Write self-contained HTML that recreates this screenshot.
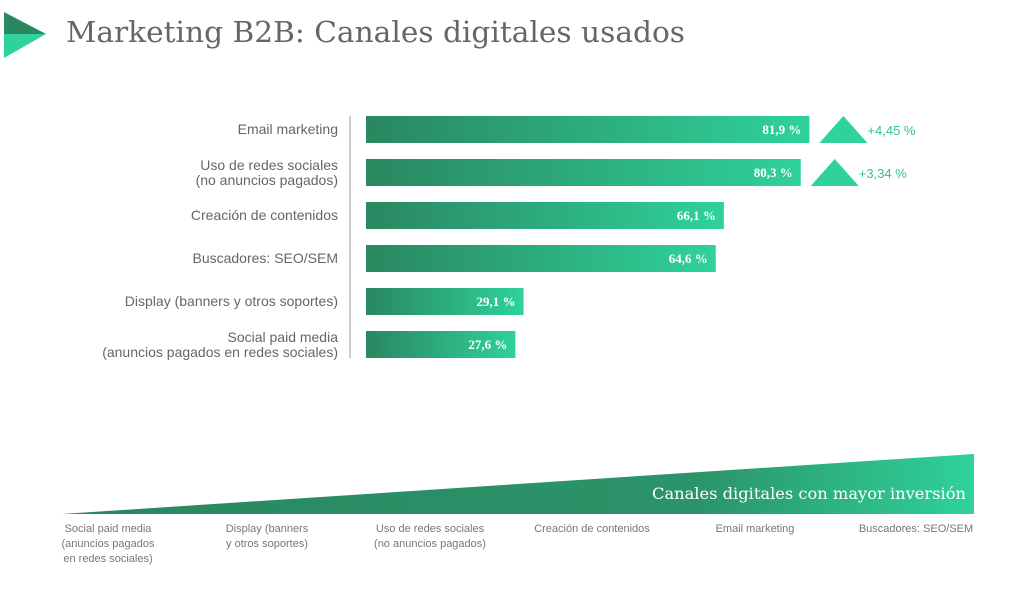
<!DOCTYPE html>
<html><head><meta charset="utf-8"><style>
body{margin:0;background:#fff;width:1018px;height:591px;overflow:hidden;font-family:"Liberation Sans",sans-serif}
</style></head><body>
<svg width="1018" height="591" xmlns="http://www.w3.org/2000/svg">
<defs>
<linearGradient id="bg" x1="0" x2="1" y1="0" y2="0"><stop offset="0" stop-color="#2a8760"/><stop offset="1" stop-color="#2fd29a"/></linearGradient>
<linearGradient id="wg" x1="0" x2="1" y1="0" y2="0"><stop offset="0" stop-color="#2a8760"/><stop offset="0.7" stop-color="#2b946a"/><stop offset="1" stop-color="#2fd29a"/></linearGradient>
</defs>
<g>
<polygon points="4,12 46,34 4,34" fill="#2a8760"/>
<polygon points="4,34 46,34 4,58" fill="#2fd29a"/>
</g>
<text x="66" y="42" font-family="DejaVu Serif,serif" font-size="29" fill="#666" textLength="619" lengthAdjust="spacingAndGlyphs">Marketing B2B: Canales digitales usados</text>
<line x1="350" y1="116" x2="350" y2="358" stroke="#999" stroke-width="1"/>
<g id="bars"></g>
<g>
<polygon points="62,514 974,454 974,514" fill="url(#wg)"/>
<text x="652" y="499" font-family="DejaVu Serif,serif" font-size="16" fill="#fff" textLength="314" lengthAdjust="spacingAndGlyphs">Canales digitales con mayor inversión</text>
</g>
<g id="rank" font-size="11" fill="#777"></g>
</svg>
<script>
const categories=[["Email marketing"],["Uso de redes sociales","(no anuncios pagados)"],["Creación de contenidos"],["Buscadores: SEO/SEM"],["Display (banners y otros soportes)"],["Social paid media","(anuncios pagados en redes sociales)"]];
const values=[81.9,80.3,66.1,64.6,29.1,27.6];
const valueLabels=["81,9 %","80,3 %","66,1 %","64,6 %","29,1 %","27,6 %"];
const changes=["+4,45 %","+3,34 %",null,null,null,null];
const ranking=[["Social paid media","(anuncios pagados","en redes sociales)"],["Display (banners","y otros soportes)"],["Uso de redes sociales","(no anuncios pagados)"],["Creación de contenidos"],["Email marketing"],["Buscadores: SEO/SEM"]];
const NS="http://www.w3.org/2000/svg";
const x=v=>366+v*5.414;
const y=i=>116+i*43;
const g=document.getElementById('bars');
function mk(t,a,p){const e=document.createElementNS(NS,t);for(const k in a)e.setAttribute(k,a[k]);p.appendChild(e);return e;}
values.forEach((v,i)=>{
  const r=mk('rect',{x:366,y:y(i),width:x(v)-366,height:27,fill:'url(#bg)'},g);
  
  
  const t=mk('text',{x:x(v)-8,y:y(i)+18,'text-anchor':'end','font-family':'Liberation Serif,serif','font-size':13,'font-weight':'bold',fill:'#fff'},g);
  t.textContent=valueLabels[i];
  
  
  const lines=categories[i];
  lines.forEach((l,j)=>{
    const c=mk('text',{x:338,y:y(i)+(lines.length===1?18:11)+j*15,'text-anchor':'end','font-size':14,fill:'#666'},g);
    c.textContent=l;
    
    
  });
  if(changes[i]){
    const x0=x(v)+10;
    const tri=mk('polygon',{points:`${x0},${y(i)+27} ${x0+24},${y(i)} ${x0+48},${y(i)+27}`,fill:'#2fd29a'},g);
    
    
    const ct=mk('text',{x:x0+48,y:y(i)+19,'font-size':13,fill:'#2fc490'},g);
    ct.textContent=changes[i];
    
    
  }
});
const rk=document.getElementById('rank');
const rx=[108,267,430,592,755,916];
ranking.forEach((lines,i)=>{
  lines.forEach((l,j)=>{
    const t=mk('text',{x:rx[i],y:532+j*15,'text-anchor':'middle'},rk);
    t.textContent=l;
    
    
  });
});
</script>
</body></html>
